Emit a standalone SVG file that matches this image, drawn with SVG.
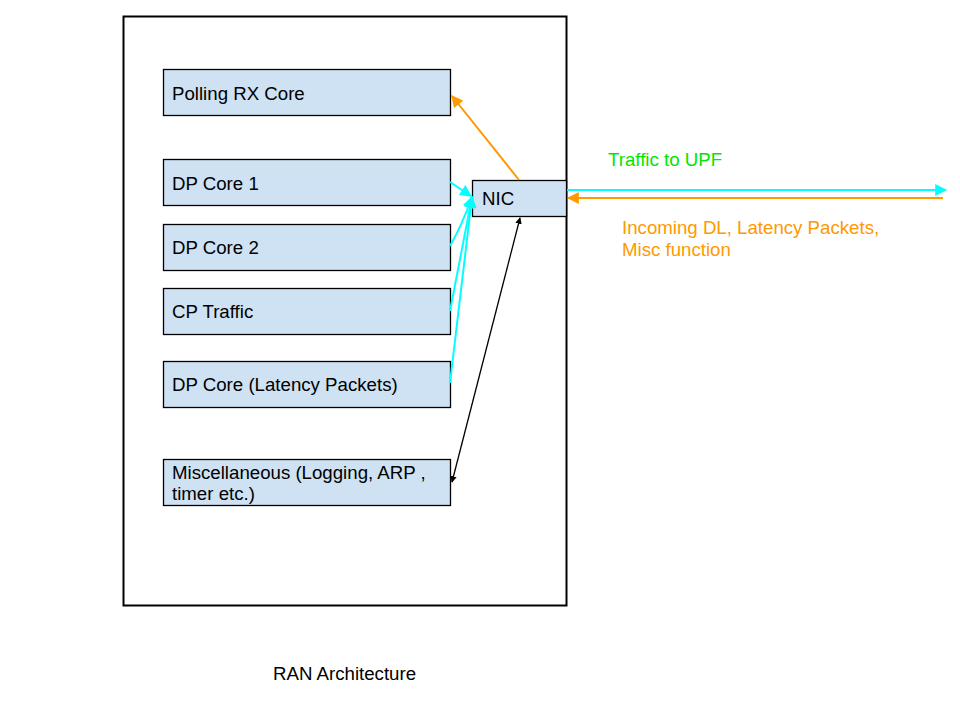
<svg xmlns="http://www.w3.org/2000/svg" width="960" height="720" viewBox="0 0 960 720">
<defs>
<style>
.node{fill:#cfe2f3;stroke:#000;stroke-width:1.3}
.t{font-family:"Liberation Sans",Arial,sans-serif;font-size:18.67px;fill:#000}
.lbl{font-family:"Liberation Sans",Arial,sans-serif;font-size:18.67px}
.cy{stroke:#00ffff;stroke-width:2;fill:none}
.or{stroke:#ff9900;stroke-width:2;fill:none}
.bk{stroke:#000;stroke-width:1.3;fill:none}
</style>
<marker id="mc" viewBox="0 0 10 10" refX="9" refY="5" markerWidth="6" markerHeight="6" orient="auto"><path d="M0,0 L10,5 L0,10 z" fill="#00ffff"/></marker>
<marker id="mo" viewBox="0 0 10 10" refX="9" refY="5" markerWidth="6" markerHeight="6" orient="auto"><path d="M0,0 L10,5 L0,10 z" fill="#ff9900"/></marker>
<marker id="mk" viewBox="0 0 10 10" refX="9" refY="5" markerWidth="5" markerHeight="5" orient="auto-start-reverse"><path d="M0,0 L10,5 L0,10 z" fill="#000"/></marker>
</defs>
<rect width="960" height="720" fill="#fff"/>
<g id="outer"><rect x="123.5" y="16.5" width="443" height="589" fill="#fff" stroke="#000" stroke-width="2"/></g>
<g id="polling"><rect class="node" x="163.5" y="69.5" width="287" height="46"/><text class="t" x="172" y="100">Polling RX Core</text></g>
<g id="dp1"><rect class="node" x="163.5" y="159.5" width="287" height="46"/><text class="t" x="172" y="190">DP Core 1</text></g>
<g id="dp2"><rect class="node" x="163.5" y="224.5" width="287" height="46"/><text class="t" x="172" y="254">DP Core 2</text></g>
<g id="cp"><rect class="node" x="163.5" y="288.5" width="287" height="46"/><text class="t" x="172" y="318">CP Traffic</text></g>
<g id="dplat"><rect class="node" x="163.5" y="361.5" width="287" height="46"/><text class="t" x="172" y="391">DP Core (Latency Packets)</text></g>
<g id="misc"><rect class="node" x="163.5" y="459.5" width="287" height="46"/><text class="t" x="172" y="479">Miscellaneous (Logging, ARP ,</text><text class="t" x="172" y="500">timer etc.)</text></g>
<g id="nic"><rect class="node" x="472.5" y="180.5" width="94" height="36"/><text class="t" x="482" y="205">NIC</text></g>
<g id="connectors">
<line class="cy" x1="450" y1="182" x2="471" y2="196" marker-end="url(#mc)"/>
<path class="cy" d="M450,246 Q462,225 472,197" marker-end="url(#mc)"/>
<path class="cy" d="M450,311 Q462,250 472,197" marker-end="url(#mc)"/>
<path class="cy" d="M450,383 Q462,280 472,197" marker-end="url(#mc)"/>
<line class="or" x1="519" y1="180" x2="452" y2="96" marker-end="url(#mo)"/>
<line class="bk" x1="452" y1="482" x2="520" y2="218" marker-start="url(#mk)" marker-end="url(#mk)"/>
<line class="cy" x1="567" y1="190" x2="946" y2="190" marker-end="url(#mc)"/>
<line class="or" x1="943" y1="198" x2="568" y2="198" marker-end="url(#mo)"/>
</g>
<g id="labels">
<text class="lbl" x="608" y="166" fill="#00e600">Traffic to UPF</text>
<text class="lbl" x="622" y="234" fill="#ff9900">Incoming DL, Latency Packets,</text>
<text class="lbl" x="622" y="256" fill="#ff9900">Misc function</text>
<text class="lbl" x="273" y="680" fill="#000">RAN Architecture</text>
</g>
</svg>
